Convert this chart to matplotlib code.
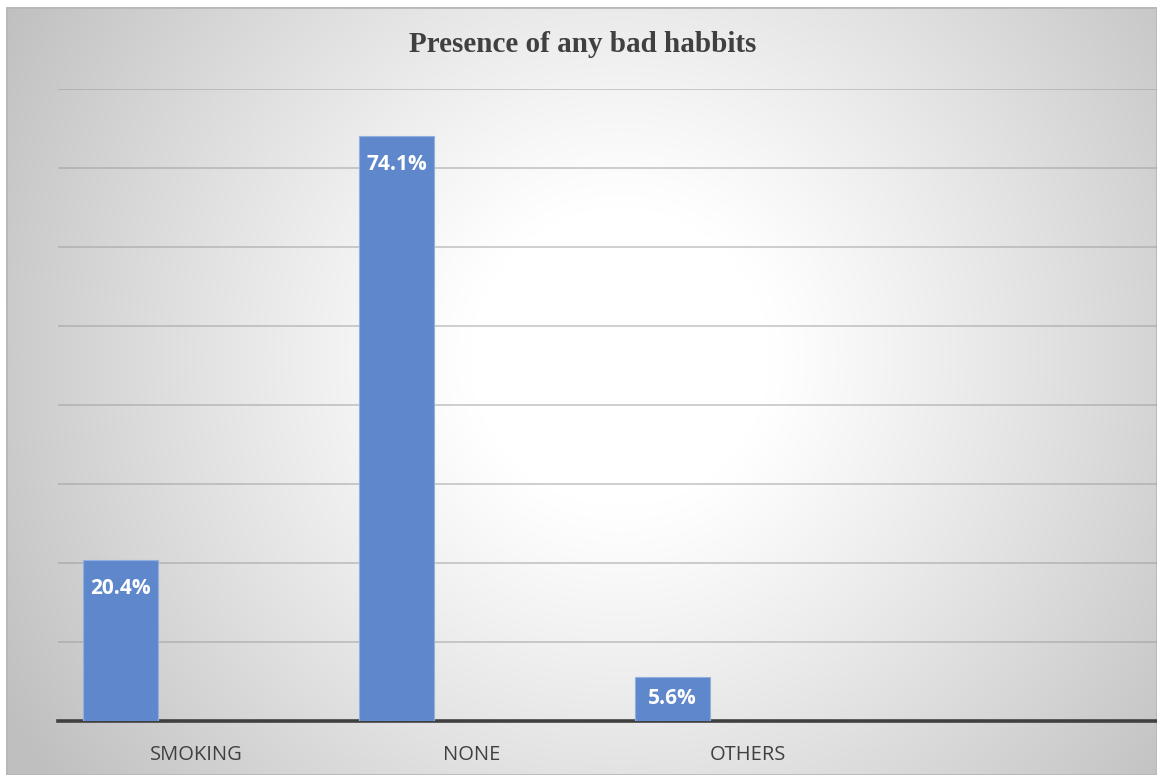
import numpy as np
import matplotlib.pyplot as plt
from matplotlib.patches import Rectangle

categories = ["SMOKING", "NONE", "OTHERS", ""]
shares = [20.4, 74.1, 5.6]
labels = ["20.4%", "74.1%", "5.6%"]

W, H = 1157, 775
fig = plt.figure(figsize=(W / 100, H / 100), dpi=100)
fig.patch.set_facecolor("white")

# chart area with a soft radial grey-to-white fill
box = [6 / W, 0, (W - 6) / W, (H - 7) / H]
bg = fig.add_axes(box, zorder=0)
yy, xx = np.mgrid[0:H - 7, 0:W - 6]
r = np.hypot(xx - 614, yy - 350)
t = np.clip((r - 150) / 560, 0, 1)
shade = 1 - 0.25 * t ** 1.1
bg.imshow(np.dstack([shade] * 3), aspect="auto", extent=[0, 1, 0, 1], origin="upper")
bg.add_patch(Rectangle((0, 0), 1, 1, transform=bg.transAxes, fill=False,
                       edgecolor="#b8b8b8", linewidth=2))
bg.set_axis_off()

# plot area runs slightly past the right edge of the canvas
ax = fig.add_axes([58 / W, 1 - 721 / H, (1162 - 58) / W, (721 - 89) / H], zorder=1)
ax.patch.set_alpha(0)

x = np.arange(len(categories))
bar_w = 75 / 276
left = x[:len(shares)] - 0.5 + 25 / 276
ax.bar(left, shares, width=bar_w, align="edge", color="#5f87cc",
       edgecolor="#93afe0", linewidth=0.8, zorder=3)

for xl, v, lab in zip(left, shares, labels):
    ax.text(xl + bar_w / 2, v - min(3.65, v / 2), lab, ha="center", va="center",
            color="white", fontsize=15, fontweight="bold", family="Open Sans", zorder=4)

ax.set_xlim(-0.5, len(categories) - 0.5)
ax.set_ylim(0, 80)
ax.set_yticks(np.arange(10, 81, 10))
ax.yaxis.grid(True, color="#9a9a9a", linewidth=1.1, alpha=0.6, zorder=1)
ax.set_axisbelow(True)
ax.set_xticks(x)
ax.set_xticklabels(categories, family="Open Sans", fontsize=14.5, color="#404040")
ax.tick_params(axis="x", length=0, pad=17)
ax.tick_params(axis="y", length=0, labelleft=False)
for s in ["top", "right", "left"]:
    ax.spines[s].set_visible(False)
ax.spines["bottom"].set_color("#404040")
ax.spines["bottom"].set_linewidth(2.6)

fig.text(583 / W, 1 - 45 / H, "Presence of any bad habbits", ha="center", va="center",
         family="Liberation Serif", fontweight="bold", fontsize=21, color="#404040")

fig.savefig("out.png", dpi=100)
